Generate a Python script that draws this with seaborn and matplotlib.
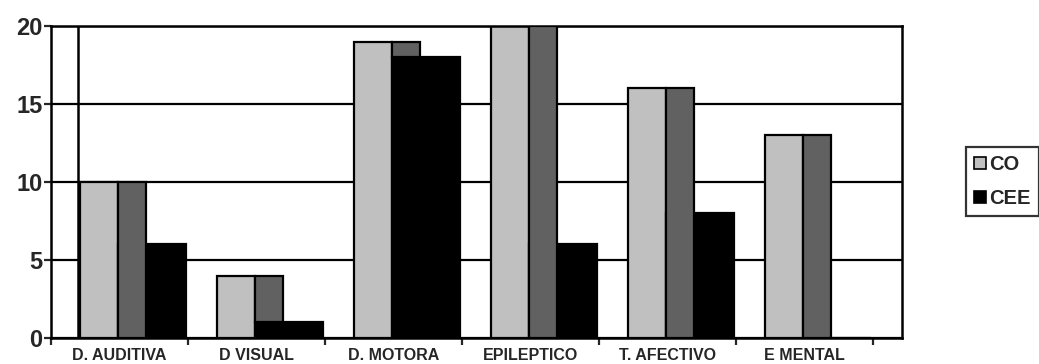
import numpy as np
import matplotlib
matplotlib.use("Agg")
import matplotlib.pyplot as plt
import matplotlib.patches as mpatches
import seaborn as sns

# Datos
categorias = ["D. AUDITIVA", "D VISUAL", "D. MOTORA", "EPILEPTICO", "T. AFECTIVO", "E MENTAL"]
co = [10, 4, 19, 20, 16, 13]      # gris claro
cee = [6, 1, 18, 6, 8, 0]         # negro
# franja gris oscuro (zona de solape), desde base hasta el valor de CO
solape_base = [0, 1, 18, 0, 0, 0]
solape_tope = [10, 4, 19, 20, 16, 13]

GRIS_CLARO = "#c0c0c0"
GRIS_OSCURO = "#616161"

sns.set_style("white")
plt.rcParams["font.family"] = ["Liberation Sans", "DejaVu Sans"]
plt.rcParams["font.weight"] = "bold"

fig = plt.figure(figsize=(10.39, 3.64), dpi=100)
ax = fig.add_axes([51 / 1039, 1 - 338 / 364, (902 - 51) / 1039, (338 - 26) / 364])

# serie CO
sns.barplot(x=categorias, y=co, color=GRIS_CLARO, width=0.28, edgecolor="black",
            linewidth=1.6, saturation=1, ax=ax, zorder=2)
n = len(ax.patches)
for p in ax.patches:
    p.set_x(p.get_x() - 0.15)

# serie CEE
sns.barplot(x=categorias, y=cee, color="black", width=0.495, edgecolor="black",
            linewidth=1.6, saturation=1, ax=ax, zorder=3)
for p in ax.patches[n:]:
    p.set_x(p.get_x() + 0.2375)

# franja gris oscuro encima
xs = np.arange(len(categorias))
base = np.array(solape_base)
ax.bar(xs - 0.01, np.array(solape_tope) - base, bottom=base, width=0.2, align="edge",
       color=GRIS_OSCURO, edgecolor="black", linewidth=1.6, zorder=4)

# linea vertical junto a la primera barra
ax.axvline(-0.305, color="black", lw=1.8, zorder=1)

ax.set_ylim(0, 20)
ax.set_xlim(-0.5, 5.71)
ax.set_yticks([0, 5, 10, 15, 20])
ax.set_yticklabels(["0", "5", "10", "15", "20"], fontsize=17, fontweight="bold")
ax.yaxis.grid(True, color="black", lw=1.6)
ax.set_axisbelow(True)

ax.set_xticks(np.arange(-0.5, len(categorias), 1.0))
ax.set_xticklabels([])
ax.set_xticks(xs, minor=True)
ax.set_xticklabels(categorias, minor=True, fontsize=11.5, fontweight="bold")
ax.tick_params(axis="x", which="minor", length=0, pad=7)
ax.tick_params(axis="x", which="major", length=5, width=1.6, direction="out", bottom=True)
ax.tick_params(axis="y", length=5, width=1.6, direction="out", left=True, pad=1)
ax.set_xlabel("")
ax.set_ylabel("")

for s in ax.spines.values():
    s.set_visible(True)
    s.set_color("black")
    s.set_linewidth(1.8)

handles = [mpatches.Patch(facecolor=GRIS_CLARO, edgecolor="black", lw=1.2, label="CO"),
           mpatches.Patch(facecolor="black", edgecolor="black", lw=1.2, label="CEE")]
leg = fig.legend(handles=handles, loc="upper left", bbox_to_anchor=(966 / 1039, 1 - 147 / 364),
                 prop={"size": 14.5, "weight": "bold"}, frameon=True, fancybox=False,
                 handlelength=0.6, handleheight=0.6, handletextpad=0.15,
                 labelspacing=0.75, borderpad=0.4, borderaxespad=0)
leg.get_frame().set_edgecolor("black")
leg.get_frame().set_linewidth(1.6)

fig.savefig("out.png", dpi=100)
